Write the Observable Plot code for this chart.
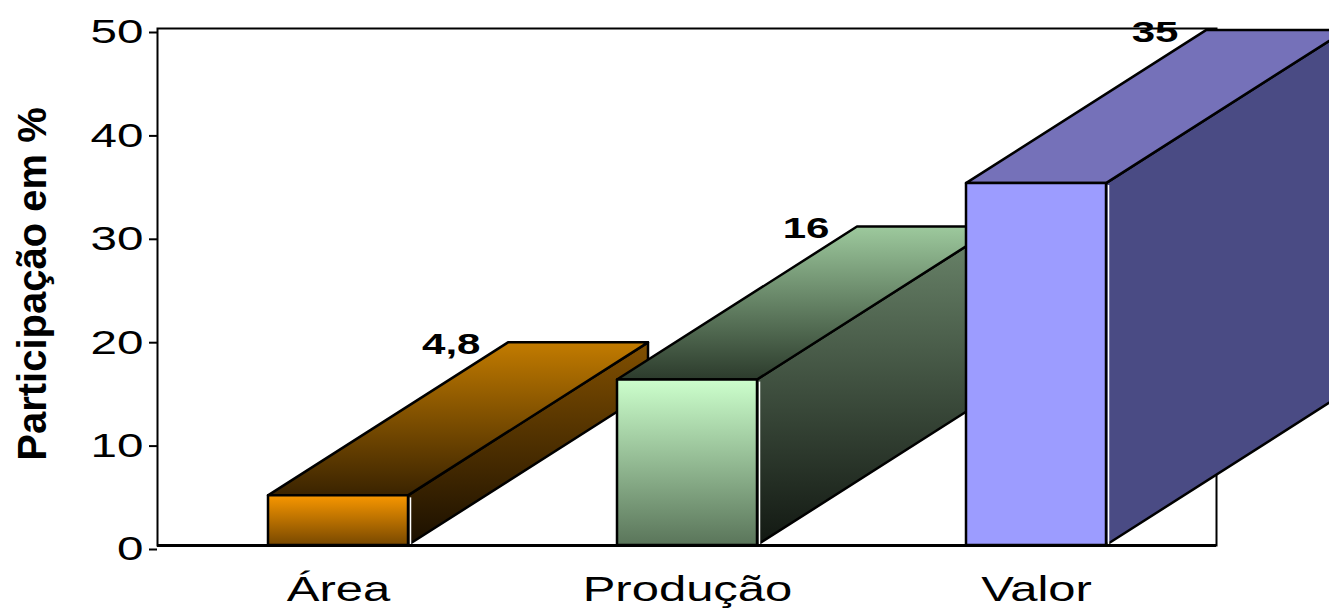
<!DOCTYPE html>
<html>
<head>
<meta charset="utf-8">
<script src="https://cdn.jsdelivr.net/npm/d3@7"></script>
<script src="https://cdn.jsdelivr.net/npm/@observablehq/plot@0.6"></script>
<style>
  html, body { margin: 0; padding: 0; background: #fff; overflow: hidden; }
</style>
</head>
<body>
<div id="chart"></div>
<script>
// Participation of the segment in area, production and value (%)
const categories = ["Área", "Produção", "Valor"];
const shares = [4.8, 16, 35];
const yTicks = [0, 10, 20, 30, 40, 50];
const yLabel = "Participação em %";

const rows = categories.map((category, i) => ({
  category,
  value: shares[i],
  label: String(shares[i]).replace(".", ",")
}));

// Face shading of each box: [top colour, bottom colour] of a vertical gradient
const faceColors = {
  "Área":     {front: ["#f89700", "#784800"], top: ["#c27b00", "#3a2300"], side: ["#825000", "#1a0f00"]},
  "Produção": {front: ["#ccffcc", "#5a755a"], top: ["#9dc99d", "#2c3b2c"], side: ["#6c876c", "#121812"]},
  "Valor":    {front: ["#9c9cff", "#9c9cff"], top: ["#7571b9", "#7571b9"], side: ["#4a4b84", "#4a4b84"]}
};

// Pixel offset of the back face of each box (perspective depth)
const DEPTH_X = 240, DEPTH_Y = -153;

function gradientDefs() {
  const defs = d3.create("svg:defs");
  categories.forEach((c, k) => {
    for (const face of ["front", "top", "side"]) {
      const [a, b] = faceColors[c][face];
      const g = defs.append("linearGradient")
        .attr("id", `shade-${k}-${face}`)
        .attr("x1", 0).attr("y1", 0).attr("x2", 0).attr("y2", 1);
      g.append("stop").attr("offset", 0).attr("stop-color", a);
      g.append("stop").attr("offset", 1).attr("stop-color", b);
    }
  });
  return defs.node();
}

// Draws each bar as a box: side and top faces, then the front face
function renderBoxes(index, scales) {
  const g = d3.create("svg:g").attr("stroke", "#000").attr("stroke-width", 2.5).attr("stroke-linejoin", "round");
  const x = scales.x, y = scales.y;
  const bw = typeof x.bandwidth === "function" ? x.bandwidth() : x.bandwidth;
  const yBase = y(0);
  for (const i of index) {
    const d = rows[i];
    const k = categories.indexOf(d.category);
    const x0 = x(d.category), x1 = x0 + bw, yTop = y(d.value);
    g.append("path")
      .attr("d", `M${x1},${yTop}L${x1 + DEPTH_X},${yTop + DEPTH_Y}L${x1 + DEPTH_X},${yBase + DEPTH_Y}L${x1},${yBase}Z`)
      .attr("fill", `url(#shade-${k}-side)`);
    g.append("path")
      .attr("d", `M${x0},${yTop}L${x0 + DEPTH_X},${yTop + DEPTH_Y}L${x1 + DEPTH_X},${yTop + DEPTH_Y}L${x1},${yTop}Z`)
      .attr("fill", `url(#shade-${k}-top)`);
    g.append("rect")
      .attr("x", x0).attr("y", yTop).attr("width", bw).attr("height", yBase - yTop)
      .attr("fill", `url(#shade-${k}-front)`);
    g.append("line")
      .attr("x1", x1 + 2.5).attr("x2", x1 + 2.5).attr("y1", yTop + 2).attr("y2", yBase - 1)
      .attr("stroke", "#fff").attr("stroke-width", 1.5);
  }
  return g.node();
}

// Widens horizontal text about its anchor point
function widenTexts(node, s) {
  d3.select(node).selectAll("text").each(function () {
    const ax = +(this.getAttribute("x") || 0);
    const t = this.getAttribute("transform") || "";
    this.setAttribute("transform", `${t} translate(${ax},0) scale(${s},1) translate(${-ax},0)`);
  });
  return node;
}
const widened = (s) => (index, scales, values, dimensions, context, next) =>
  widenTexts(next(index, scales, values, dimensions, context), s);

const chart = Plot.plot({
  width: 1329,
  height: 612,
  marginLeft: 157,
  marginRight: 113,
  marginTop: 28,
  marginBottom: 67,
  style: {background: "#fff", color: "#000", overflow: "hidden", fontFamily: "'Liberation Sans', Arial, sans-serif"},
  x: {domain: categories, range: [57, 1316], padding: 0.6, label: null},
  y: {domain: [0, 50], label: null},
  marks: [
    gradientDefs,
    Plot.frame({stroke: "#000", strokeWidth: 2}),
    Plot.barY(rows, {x: "category", y: "value", render: renderBoxes}),
    Plot.ruleY([0], {stroke: "#000", strokeWidth: 3}),
    Plot.text(rows, {
      x: "category", y: "value", text: "label",
      textAnchor: "end", dx: 142, dy: -151,
      fontSize: 29, fontWeight: "bold", fill: "#000",
      render: widened(1.45)
    }),
    Plot.axisY(yTicks, {tickSize: 8, tickPadding: 6, fontSize: 34, dy: 4, strokeWidth: 2, label: null, render: widened(1.4)}),
    Plot.axisX({tickSize: 0, tickPadding: 31, fontSize: 35, label: null, render: widened(1.4)}),
    Plot.text([yLabel], {
      frameAnchor: "left", textAnchor: "middle", rotate: -90, dx: -124, dy: -3,
      fontSize: 40, fontWeight: "bold", fill: "#000"
    })
  ]
});

document.getElementById("chart").append(chart);
</script>
</body>
</html>
